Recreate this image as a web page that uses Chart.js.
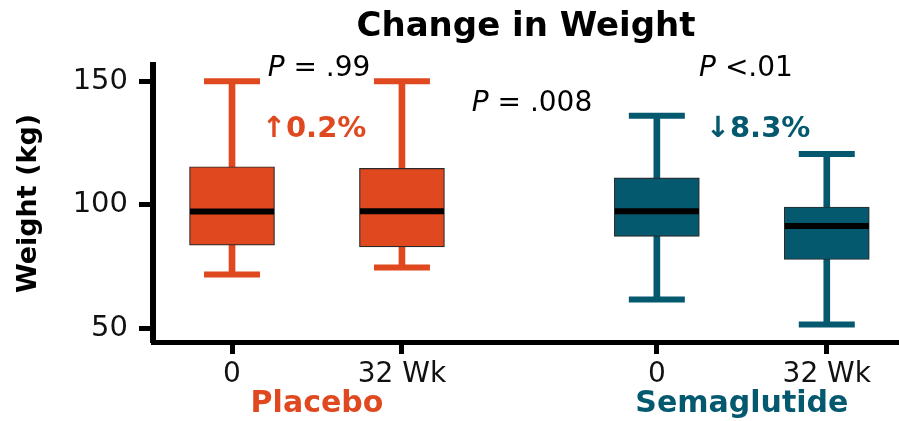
<!DOCTYPE html>
<html>
<head>
<meta charset="utf-8">
<script src="https://cdn.jsdelivr.net/npm/chart.js@4"></script>
<style>
  html, body { margin: 0; padding: 0; background: #fff; }
  #wrap { width: 899px; height: 421px; }
</style>
</head>
<body>
<div id="wrap"><canvas id="chart"></canvas></div>
<script>
// box positions on the x axis and their tick labels
const xPos = [1, 2, 3.5, 4.5];
const xLabels = ['0', '32 Wk', '0', '32 Wk'];
const yTicks = [50, 100, 150];

// weight (kg) box statistics
const whiskerLow = [71.7, 74.6, 61.6, 51.5];
const q1 = [83.6, 82.9, 87.2, 77.8];
const median = [97.3, 97.4, 97.4, 91.4];
const q3 = [115.4, 114.7, 110.9, 99.1];
const whiskerHigh = [150, 150, 136.0, 120.6];

const groupNames = ['Placebo', 'Semaglutide'];
const groupCenters = [1.5, 4.0];
const boxGroup = [0, 0, 1, 1];
const changeLabels = ['\u21910.2%', '\u21938.3%'];

const ORANGE = '#E0491F';
const TEAL = '#04596F';
const groupColors = [ORANGE, TEAL];
const FONT = '"DejaVu Sans", sans-serif';

const boxColors = boxGroup.map(g => groupColors[g]);

// text annotations drawn on top of the chart
function drawRich(ctx, parts, cx, y, size, color) {
    let total = 0;
    parts.forEach(p => {
        ctx.font = (p.italic ? 'italic ' : '') + size + 'px ' + FONT;
        p.w = ctx.measureText(p.t).width;
        total += p.w;
    });
    let x = cx - total / 2;
    ctx.fillStyle = color;
    ctx.textAlign = 'left';
    ctx.textBaseline = 'alphabetic';
    parts.forEach(p => {
        ctx.font = (p.italic ? 'italic ' : '') + size + 'px ' + FONT;
        ctx.fillText(p.t, x, y);
        x += p.w;
    });
}

const textPlugin = {
    id: 'weightText',
    afterDraw(chart) {
        const ctx = chart.ctx;
        const xs = chart.scales.x;
        const area = chart.chartArea;
        ctx.save();

        ctx.fillStyle = '#000';
        ctx.textAlign = 'center';
        ctx.textBaseline = 'alphabetic';
        ctx.font = 'bold 34px ' + FONT;
        ctx.fillText('Change in Weight', (area.left + area.right) / 2, 36);

        drawRich(ctx, [{ t: 'P', italic: true }, { t: ' = .99' }], 319, 76, 28, '#000');
        drawRich(ctx, [{ t: 'P', italic: true }, { t: ' = .008' }], 532, 111, 28, '#000');
        drawRich(ctx, [{ t: 'P', italic: true }, { t: ' <.01' }], 746, 76, 28, '#000');

        ctx.textAlign = 'center';
        ctx.font = 'bold 29px ' + FONT;
        ctx.fillStyle = ORANGE;
        ctx.fillText(changeLabels[0], 314, 137);
        ctx.fillStyle = TEAL;
        ctx.fillText(changeLabels[1], 758, 137);

        ctx.font = 'bold 30px ' + FONT;
        groupNames.forEach((name, i) => {
            ctx.fillStyle = groupColors[i];
            ctx.fillText(name, xs.getPixelForValue(groupCenters[i]), 412);
        });
        ctx.restore();
    }
};

const capPoints = [];
const capColors = [];
xPos.forEach((x, i) => {
    capPoints.push({ x: x, y: whiskerHigh[i] });
    capPoints.push({ x: x, y: whiskerLow[i] });
    capColors.push(boxColors[i], boxColors[i]);
});

new Chart(document.getElementById('chart'), {
    type: 'bar',
    data: {
        datasets: [
            {
                label: 'whisker',
                data: xPos.map((x, i) => ({ x: x, y: [whiskerLow[i], whiskerHigh[i]] })),
                backgroundColor: boxColors,
                borderWidth: 0,
                barThickness: 6,
                grouped: false,
                order: 4
            },
            {
                type: 'line',
                label: 'caps',
                data: capPoints,
                showLine: false,
                pointStyle: 'line',
                pointRadius: 28,
                pointBorderWidth: 6,
                pointBorderColor: capColors,
                order: 3
            },
            {
                label: 'box',
                data: xPos.map((x, i) => ({ x: x, y: [q1[i], q3[i]] })),
                backgroundColor: boxColors,
                borderColor: '#2a2a2a',
                borderWidth: 1.2,
                borderSkipped: false,
                barThickness: 85,
                grouped: false,
                order: 2
            },
            {
                type: 'line',
                label: 'median',
                data: xPos.map((x, i) => ({ x: x, y: median[i] })),
                showLine: false,
                pointStyle: 'line',
                pointRadius: 42,
                pointBorderWidth: 6,
                pointBorderColor: '#000',
                order: 1
            }
        ]
    },
    options: {
        responsive: true,
        maintainAspectRatio: false,
        animation: false,
        events: [],
        layout: { autoPadding: false, padding: { top: 65, right: 0, left: 0, bottom: 0 } },
        plugins: {
            legend: { display: false },
            tooltip: { enabled: false },
            title: { display: false }
        },
        scales: {
            x: {
                type: 'linear',
                min: 0.535,
                max: 4.925,
                offset: false,
                afterBuildTicks: s => { s.ticks = xPos.map(v => ({ value: v })); },
                afterFit: s => {
                    s.height = 79;
                    s.paddingLeft = 0;
                    s.paddingRight = 0;
                },
                ticks: {
                    callback: (v, i) => xLabels[i],
                    autoSkip: false,
                    maxRotation: 0,
                    padding: 4,
                    color: '#111',
                    font: { family: FONT, size: 28 }
                },
                grid: {
                    drawOnChartArea: false,
                    drawTicks: true,
                    tickLength: 12,
                    tickWidth: 5,
                    tickColor: '#000',
                    offset: false
                },
                border: { display: true, color: '#000', width: 5 }
            },
            y: {
                type: 'linear',
                min: 44.4,
                max: 156.6,
                afterBuildTicks: s => { s.ticks = yTicks.map(v => ({ value: v })); },
                afterFit: s => { s.width = 153; },
                ticks: {
                    padding: 11,
                    color: '#111',
                    font: { family: FONT, size: 29 }
                },
                grid: {
                    drawOnChartArea: false,
                    drawTicks: true,
                    tickLength: 14,
                    tickWidth: 5,
                    tickColor: '#000'
                },
                border: { display: true, color: '#000', width: 6 },
                title: {
                    display: true,
                    text: 'Weight (kg)',
                    color: '#000',
                    font: { family: FONT, size: 27, weight: 'bold' },
                    padding: { top: 13, bottom: 0 }
                }
            }
        }
    },
    plugins: [textPlugin]
});
</script>
</body>
</html>
